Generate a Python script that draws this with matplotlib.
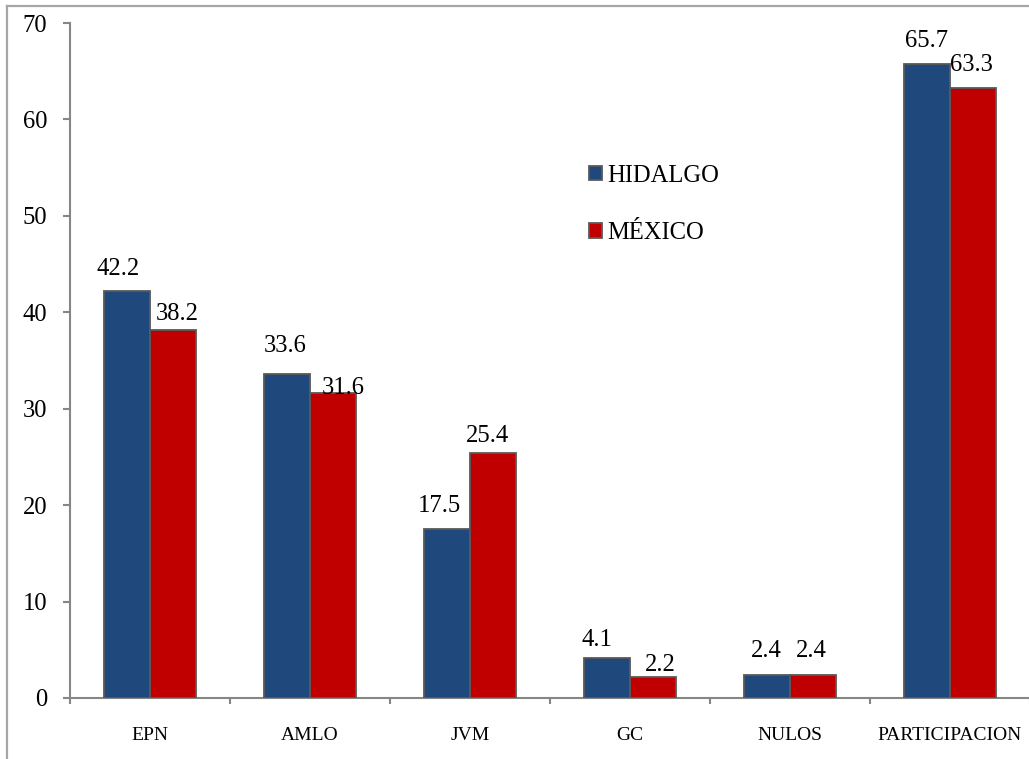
import matplotlib
matplotlib.use("Agg")
import matplotlib.pyplot as plt
from matplotlib.lines import Line2D
from matplotlib.patches import Patch
import numpy as np

categories = ["EPN", "AMLO", "JVM", "GC", "NULOS", "PARTICIPACION"]
hidalgo = [42.2, 33.6, 17.5, 4.1, 2.4, 65.7]
mexico = [38.2, 31.6, 25.4, 2.2, 2.4, 63.3]
series_names = ["HIDALGO", "MÉXICO"]
y_ticks = [0, 10, 20, 30, 40, 50, 60, 70]

# label nudges in pixels (dx, dy above bar top)
hid_nudge = [(-9, 16), (-1.5, 22), (-8, 17), (-10, 12), (-1, 18), (0, 17)]
mex_nudge = [(4, 10), (10, -1), (-5.5, 11), (7.5, 6), (-2, 18), (-2, 17)]

plt.rcParams["font.family"] = ["Liberation Serif", "DejaVu Serif"]

W, H = 1029, 759
fig = plt.figure(figsize=(W / 100, H / 100), dpi=100)
ax = fig.add_axes([70 / W, (H - 698) / H, 960 / W, 675 / H])

blue = "#1F497D"
red = "#C00000"
edge = "#595959"
gray = "#868686"

x = np.arange(len(categories))
bw = 0.2875
b1 = ax.bar(x - bw / 2, hidalgo, bw, color=blue, edgecolor=edge, linewidth=1.3, zorder=3)
b2 = ax.bar(x + bw / 2, mexico, bw, color=red, edgecolor=edge, linewidth=1.3, zorder=3)

fs = 17.7
for bars, vals, nudges in ((b1, hidalgo, hid_nudge), (b2, mexico, mex_nudge)):
    for rect, v, (dx, dy) in zip(bars, vals, nudges):
        ax.annotate(f"{v:.1f}", (rect.get_x() + rect.get_width() / 2, v),
                    xytext=(dx, dy), textcoords="offset pixels",
                    ha="center", va="baseline", fontsize=fs, color="black",
                    zorder=5, annotation_clip=False)

ax.set_xlim(-0.5, len(categories) - 0.5)
ax.set_ylim(0, 70)
ax.set_yticks(y_ticks)
ax.set_yticklabels([str(t) for t in y_ticks], fontsize=fs)
ax.set_xticks(x)
ax.set_xticklabels(categories, fontsize=14)
ax.set_xticks(np.arange(-0.5, len(categories), 1.0), minor=True)
ax.tick_params(axis="x", which="major", length=0, pad=21)
ax.tick_params(axis="x", which="minor", length=4, width=1.5, color=gray, direction="out")
ax.tick_params(axis="y", length=5, width=1.5, color=gray, direction="out", pad=11.5)

for s in ("top", "right"):
    ax.spines[s].set_visible(False)
for s in ("left", "bottom"):
    ax.spines[s].set_color(gray)
    ax.spines[s].set_linewidth(1.5)

handles = [Patch(facecolor=blue, edgecolor=edge, linewidth=1.3),
           Patch(facecolor=red, edgecolor=edge, linewidth=1.3)]
fig.legend(handles, series_names, loc="center left",
           bbox_to_anchor=(589 / W, 1 - 204.5 / H), frameon=False,
           fontsize=fs, handlelength=0.53, handleheight=0.53,
           handletextpad=0.2, labelspacing=1.46, borderpad=0, borderaxespad=0)

# outer chart border (left and top edges)
fig.add_artist(Line2D([7 / W, 7 / W], [0, 1 - 5.5 / H], transform=fig.transFigure,
                      color="#A6A6A6", linewidth=1.6))
fig.add_artist(Line2D([7 / W, 1], [1 - 5.5 / H, 1 - 5.5 / H], transform=fig.transFigure,
                      color="#A6A6A6", linewidth=1.6))

fig.savefig("out.png", dpi=100)
